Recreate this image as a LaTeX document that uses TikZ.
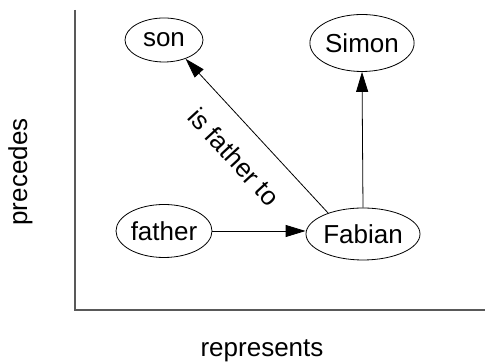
\documentclass[tikz,border=0pt]{standalone}
\usepackage{fontspec}
\setmainfont{Liberation Sans}
\usetikzlibrary{shapes.geometric,arrows.meta}
\begin{document}
\begin{tikzpicture}[x=1pt,y=1pt,
  every node/.style={font=\fontsize{26}{31}\selectfont},
  ell/.style={draw, ellipse, inner sep=0pt, line width=0.8pt},
  arr/.style={line width=0.8pt, -{Triangle[length=20pt,width=12pt]}},
  axis/.style={line width=1.3pt, draw=black!65}]
\useasboundingbox (0,0) rectangle (485,363);
\coordinate (ytop) at (75,353);
\coordinate (orig) at (75,53);
\coordinate (xend) at (485,53);
\draw[axis] (ytop) -- (orig) -- (xend);
\node[ell, minimum width=78pt, minimum height=44pt] (son) at (164,323) {son};
\node[ell, minimum width=104pt, minimum height=57pt] (simon) at (362,320) {Simon};
\node[ell, minimum width=114pt, minimum height=52pt] (fabian) at (363,129) {Fabian};
\node[ell, minimum width=96pt, minimum height=53pt] (father) at (164,132) {father};
\draw[arr] (father.east) -- (father.east -| fabian.west);
\draw[arr] (fabian.north) -- (simon.south);
\draw[arr] (fabian.149) -- node[sloped, below=21pt, inner sep=0pt, pos=0.5] (lbl) {is father to} (son.-41);
\node[anchor=base] (xlab) at (262,6.5) {represents};
\node[anchor=base, rotate=90] (ylab) at (27,191) {precedes};
\end{tikzpicture}
\end{document}
